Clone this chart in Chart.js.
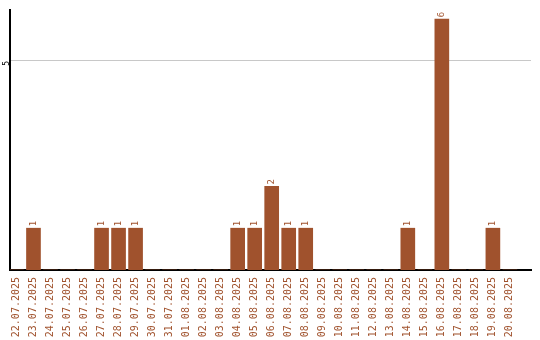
<!DOCTYPE html>
<html>
<head>
<meta charset="utf-8">
<script src="https://cdn.jsdelivr.net/npm/chart.js@4/dist/chart.umd.min.js"></script>
<style>
html,body{margin:0;padding:0;background:#fff;}
#wrap{width:540px;height:340px;}
</style>
</head>
<body>
<div id="wrap"><canvas id="c" width="540" height="340"></canvas></div>
<script>
const dates = ["22.07.2025","23.07.2025","24.07.2025","25.07.2025","26.07.2025","27.07.2025","28.07.2025","29.07.2025","30.07.2025","31.07.2025","01.08.2025","02.08.2025","03.08.2025","04.08.2025","05.08.2025","06.08.2025","07.08.2025","08.08.2025","09.08.2025","10.08.2025","11.08.2025","12.08.2025","13.08.2025","14.08.2025","15.08.2025","16.08.2025","17.08.2025","18.08.2025","19.08.2025","20.08.2025"];
const counts = [0,1,0,0,0,1,1,1,0,0,0,0,0,1,1,2,1,1,0,0,0,0,0,1,0,6,0,0,1,0];
const yTicks = [5];

const BAR = '#a0522d';

const valueLabels = {
  id: 'valueLabels',
  afterDatasetsDraw(chart) {
    const ctx = chart.ctx;
    const meta = chart.getDatasetMeta(0);
    ctx.save();
    ctx.fillStyle = BAR;
    ctx.font = '9px "DejaVu Sans Mono"';
    ctx.textAlign = 'left';
    ctx.textBaseline = 'middle';
    meta.data.forEach((el, i) => {
      const v = counts[i];
      if (!v) return;
      ctx.save();
      ctx.translate(el.x, el.y - 2);
      ctx.rotate(-Math.PI / 2);
      ctx.fillText(String(v), 0, 0);
      ctx.restore();
    });
    ctx.restore();
  }
};

new Chart(document.getElementById('c'), {
  type: 'bar',
  data: {
    datasets: [{
      data: counts.map((v, i) => ({x: i, y: v})),
      backgroundColor: BAR,
      borderWidth: 0,
      barThickness: 14
    }]
  },
  options: {
    responsive: false,
    animation: false,
    layout: {padding: {top: 10, right: 9, left: 0, bottom: 0}},
    plugins: {legend: {display: false}, tooltip: {enabled: false}},
    scales: {
      x: {
        type: 'linear',
        offset: false,
        min: -0.38,
        max: 30.24,
        afterBuildTicks: (axis) => { axis.ticks = dates.map((_, i) => ({value: i})); },
        afterFit: (axis) => { axis.height = 70; },
        grid: {display: false, drawTicks: false, offset: false},
        border: {color: '#000', width: 2},
        ticks: {
          autoSkip: false,
          maxRotation: 90,
          minRotation: 90,
          padding: 7,
          color: BAR,
          font: {family: '"DejaVu Sans Mono"', size: 10},
          callback: (v) => dates[v]
        }
      },
      y: {
        min: 0,
        max: 6.22,
        afterBuildTicks: (axis) => { axis.ticks = yTicks.map(v => ({value: v})); },
        afterFit: (axis) => { axis.width = 10; },
        grid: {color: '#c8c8c8', drawTicks: false, lineWidth: 1},
        border: {color: '#000', width: 2},
        ticks: {
          minRotation: 90,
          maxRotation: 90,
          padding: 3,
          color: '#000',
          font: {family: '"DejaVu Sans Mono"', size: 8},
          callback: (v) => String(v)
        }
      }
    }
  },
  plugins: [valueLabels]
});
</script>
</body>
</html>
